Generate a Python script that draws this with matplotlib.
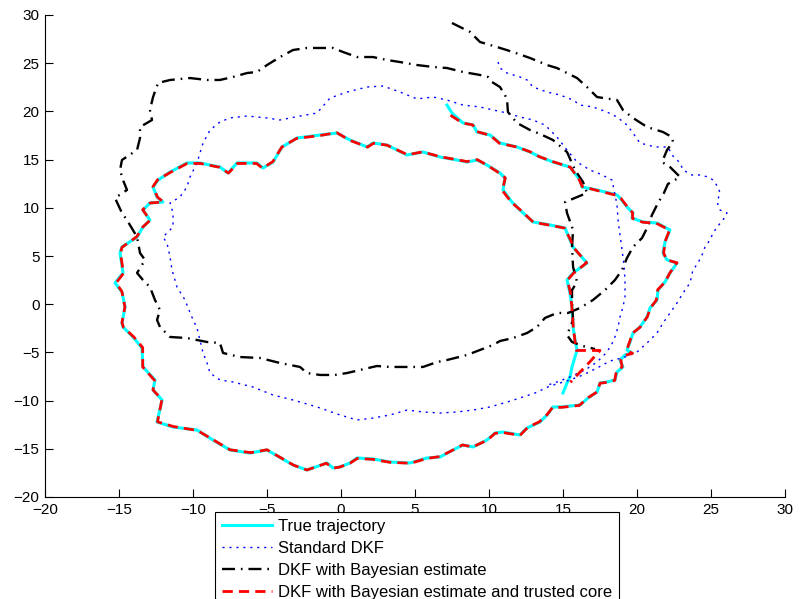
import matplotlib
matplotlib.use("Agg")
import matplotlib.pyplot as plt

# trajectories (x, y)
true_x = [7.16, 7.50, 8.24, 8.92, 9.19, 10.07, 10.74, 11.89, 12.77, 13.45,
          14.32, 15.47, 16.15, 16.28, 17.30, 18.65, 18.85, 19.39, 19.73, 19.66,
          20.41, 21.35, 22.23, 21.89, 21.76, 22.03, 22.70, 22.23, 21.89, 21.42,
          21.35, 20.88, 20.68, 20.20, 19.73, 19.53, 19.32, 19.66, 19.19, 18.85,
          19.05, 18.65, 18.51, 17.97, 17.50, 17.30, 16.69, 16.15, 15.47, 14.93,
          14.32, 13.92, 13.45, 12.57, 12.09, 10.95, 10.41, 9.86, 8.92, 8.24,
          7.57, 6.69, 5.81, 4.66, 3.31, 2.16, 1.08, 0.61, -0.07, -0.54,
          -0.95, -2.30, -3.24, -5.00, -6.15, -7.50, -8.65, -9.73, -11.35, -12.43,
          -12.09, -12.70, -12.57, -13.38, -13.45, -14.05, -14.73, -14.80, -14.59, -14.80,
          -15.27, -14.73, -14.93, -14.80, -13.78, -13.38, -12.91, -13.38, -12.91, -12.03,
          -12.43, -12.70, -12.36, -11.55, -10.41, -9.53, -8.18, -7.64, -7.03, -5.68,
          -5.27, -4.59, -3.99, -2.97, -1.42, -0.27, 0.61, 1.76, 2.16, 3.11,
          4.46, 5.54, 6.69, 7.84, 8.51, 9.19, 9.86, 10.74, 11.08, 10.95,
          11.55, 12.09, 12.97, 14.12, 15.14, 15.47, 15.68, 16.62, 15.68, 15.27,
          15.47, 15.61, 15.68, 15.81, 15.95, 15.61, 15.47, 15.27, 15.00]
true_y = [20.66, 19.83, 18.80, 18.59, 17.86, 17.55, 16.72, 16.31, 15.79, 15.27,
          14.75, 14.23, 12.88, 12.16, 11.85, 11.33, 11.02, 9.98, 9.46, 8.94,
          8.53, 8.42, 7.70, 6.45, 5.31, 4.59, 4.27, 3.24, 2.30, 1.47,
          0.44, -0.39, -1.33, -2.37, -2.99, -3.92, -4.75, -5.06, -5.27, -5.79,
          -6.51, -7.03, -7.86, -8.07, -8.17, -9.11, -9.73, -10.46, -10.56, -10.66,
          -10.66, -11.49, -12.22, -12.84, -13.57, -13.26, -13.36, -14.09, -14.81, -14.61,
          -15.12, -15.85, -15.95, -16.47, -16.37, -16.06, -15.95, -16.47, -16.89, -16.99,
          -16.47, -17.20, -16.68, -15.12, -15.44, -15.12, -14.09, -13.05, -12.74, -12.22,
          -9.94, -8.90, -7.86, -6.51, -4.54, -3.40, -2.37, -1.95, -0.29, 1.27,
          2.20, 3.24, 5.31, 5.93, 6.97, 8.01, 8.73, 9.77, 10.50, 10.60,
          11.12, 12.16, 12.88, 13.71, 14.65, 14.65, 14.23, 13.61, 14.65, 14.65,
          14.13, 14.75, 16.31, 17.24, 17.55, 17.76, 17.03, 16.31, 16.72, 16.51,
          15.48, 15.79, 15.27, 14.96, 14.75, 14.96, 14.44, 13.61, 13.09, 11.85,
          10.60, 9.77, 8.53, 8.22, 7.90, 6.66, 5.93, 4.27, 3.24, 2.51,
          1.16, -0.29, -2.37, -3.71, -4.75, -6.51, -7.55, -8.17, -9.21]

std_x = [10.61, 10.74, 11.22, 12.09, 12.57, 12.97, 13.92, 14.80, 15.68, 16.15,
         17.03, 17.97, 18.65, 19.32, 19.73, 20.20, 21.22, 22.09, 22.36, 22.91,
         23.11, 23.72, 24.26, 24.80, 25.14, 25.47, 25.61, 25.41, 25.61, 26.08,
         25.81, 25.41, 25.14, 24.93, 24.59, 24.46, 24.12, 23.78, 23.58, 23.11,
         22.70, 22.23, 21.76, 21.35, 20.68, 20.00, 19.19, 18.18, 17.30, 16.35,
         15.47, 14.12, 13.11, 12.09, 11.22, 10.07, 8.92, 7.84, 6.69, 5.54,
         4.46, 3.31, 2.16, 1.08, -0.07, -1.62, -3.24, -4.59, -5.95, -7.30,
         -8.18, -8.85, -9.05, -9.32, -9.53, -9.73, -10.14, -10.54, -11.08, -11.42,
         -11.55, -11.76, -12.03, -11.35, -11.35, -11.55, -10.88, -10.41, -10.20, -9.73,
         -9.53, -9.32, -8.85, -8.18, -7.50, -6.35, -5.00, -4.12, -2.77, -1.62,
         -0.74, 0.41, 1.76, 2.84, 3.99, 5.14, 6.22, 7.16, 8.24, 9.39,
         10.27, 11.22, 12.09, 12.97, 13.78, 14.26, 14.59, 15.27, 15.95, 16.82,
         17.50, 18.31, 18.45, 18.65, 18.72, 18.85, 18.99, 19.12, 19.19, 19.19,
         19.05, 18.85, 18.72, 18.51, 18.24, 17.84, 17.30, 16.49, 15.47, 14.59,
         13.78]
std_y = [25.12, 24.50, 23.98, 23.57, 23.26, 22.53, 22.01, 21.70, 21.18, 20.66,
         20.46, 19.94, 19.42, 18.59, 17.76, 16.72, 16.31, 16.31, 15.48, 14.65,
         13.92, 13.40, 13.40, 13.20, 12.88, 12.16, 11.54, 10.60, 9.77, 9.46,
         8.73, 8.01, 7.39, 6.66, 5.93, 5.31, 4.27, 3.55, 2.20, 1.16,
         0.12, -0.91, -1.95, -2.99, -4.02, -4.96, -5.48, -5.89, -6.62, -7.34,
         -7.86, -8.49, -9.21, -9.73, -10.15, -10.66, -10.98, -11.18, -11.29, -11.18,
         -10.98, -11.49, -11.81, -12.01, -11.49, -10.66, -9.94, -9.42, -8.59, -8.07,
         -7.86, -7.14, -6.10, -5.06, -3.71, -2.47, -1.12, 0.44, 1.78, 3.55,
         4.90, 6.35, 6.97, 8.01, 9.46, 10.50, 11.12, 12.16, 13.20, 14.65,
         15.68, 16.72, 18.07, 18.90, 19.32, 19.52, 19.32, 19.11, 19.52, 19.83,
         21.39, 22.01, 22.53, 22.63, 22.01, 21.29, 21.49, 21.18, 20.66, 20.46,
         20.15, 19.83, 19.42, 19.11, 18.59, 17.86, 17.34, 16.00, 14.75, 13.92,
         13.51, 12.88, 11.85, 10.29, 8.73, 7.18, 5.62, 4.07, 2.51, 0.75,
         -0.29, -1.33, -2.37, -3.40, -4.34, -5.17, -6.00, -6.83, -7.55, -8.07,
         -8.49]

bayes_x = [7.50, 8.72, 9.39, 10.54, 11.62, 12.77, 13.92, 14.59, 15.95, 16.62,
           17.30, 18.65, 19.05, 19.73, 20.68, 21.76, 22.36, 22.43, 22.03, 21.69,
           22.23, 22.91, 22.09, 21.82, 21.42, 21.01, 20.68, 20.34, 19.73, 19.32,
           18.99, 18.51, 17.84, 17.03, 16.15, 15.34, 14.59, 13.78, 13.24, 12.57,
           11.62, 10.74, 10.27, 9.39, 8.51, 7.16, 6.49, 5.54, 4.46, 3.31,
           2.43, 1.28, 0.41, -0.41, -1.42, -2.30, -2.77, -4.12, -5.47, -6.82,
           -7.97, -8.18, -9.05, -10.41, -11.55, -12.23, -12.43, -12.23, -12.57, -12.91,
           -13.38, -13.78, -13.24, -13.58, -13.78, -14.46, -14.80, -15.27, -14.46, -14.73,
           -14.93, -14.80, -13.78, -13.58, -13.58, -12.77, -12.91, -12.70, -12.36, -11.55,
           -10.20, -9.05, -8.18, -7.30, -6.35, -5.68, -5.00, -4.12, -3.24, -2.30,
           -1.42, -0.54, 0.14, 1.08, 2.16, 3.11, 3.99, 5.14, 6.22, 7.16,
           8.24, 9.39, 9.93, 10.20, 10.74, 11.08, 11.22, 11.28, 11.89, 12.77,
           13.45, 14.32, 15.27, 15.81, 16.35, 16.62, 15.14, 15.27, 15.68, 15.61,
           15.68, 15.95, 15.61, 15.61, 15.68, 15.27, 15.61, 16.35, 17.16]
bayes_y = [29.17, 28.24, 27.20, 26.68, 26.16, 25.54, 24.81, 24.50, 23.46, 22.53,
           21.49, 21.18, 20.15, 19.32, 18.38, 17.86, 17.34, 16.83, 16.00, 14.75,
           14.23, 13.20, 12.47, 11.54, 10.50, 9.25, 7.90, 6.87, 5.93, 4.79,
           3.55, 2.51, 1.47, 0.44, -0.39, -0.91, -0.91, -1.43, -2.37, -2.99,
           -3.51, -3.82, -4.23, -4.75, -5.27, -5.79, -6.00, -6.51, -6.51, -6.51,
           -6.41, -6.83, -7.14, -7.34, -7.34, -7.14, -6.51, -6.10, -5.58, -5.48,
           -5.06, -4.02, -3.92, -3.51, -3.40, -2.37, -1.64, -0.60, 0.44, 1.78,
           2.51, 3.24, 4.59, 5.31, 6.97, 8.73, 9.46, 11.02, 11.85, 12.88,
           13.92, 14.96, 16.00, 17.24, 18.38, 19.11, 20.15, 21.49, 22.95, 23.26,
           23.46, 23.26, 23.26, 23.57, 23.98, 24.09, 24.81, 25.64, 26.37, 26.58,
           26.58, 26.58, 26.16, 25.64, 25.64, 25.33, 25.12, 24.81, 24.61, 24.50,
           24.09, 23.78, 23.57, 23.05, 22.53, 21.70, 21.18, 19.94, 18.80, 18.07,
           17.66, 17.03, 15.79, 13.92, 12.68, 11.54, 10.60, 9.46, 7.70, 5.93,
           3.86, 2.30, 1.47, 0.12, -1.64, -3.20, -3.92, -4.34, -4.65]

core_x = [7.4, 8.2, 8.9, 9.2, 10.1, 10.7, 11.9, 12.8, 13.4, 14.3,
          15.5, 16.1, 16.3, 17.3, 18.6, 18.9, 19.4, 19.7, 19.7, 20.4,
          21.3, 22.2, 21.9, 21.8, 22.0, 22.7, 22.2, 21.9, 21.4, 21.3,
          20.9, 20.7, 20.2, 19.7, 19.5, 19.3, 19.7, 19.2, 18.9, 19.0,
          18.6, 18.5, 18.0, 17.5, 17.3, 16.7, 16.1, 15.5, 14.9, 14.3,
          13.9, 13.4, 12.6, 12.1, 10.9, 10.4, 9.9, 8.9, 8.2, 7.6,
          6.7, 5.8, 4.7, 3.3, 2.2, 1.1, 0.6, -0.1, -0.5, -1.0,
          -2.3, -3.2, -5.0, -6.1, -7.5, -8.6, -9.7, -11.3, -12.4, -12.1,
          -12.7, -12.6, -13.4, -13.4, -14.0, -14.7, -14.8, -14.6, -14.8, -15.2,
          -14.7, -14.9, -14.8, -13.8, -13.4, -12.9, -13.4, -12.9, -12.0, -12.4,
          -12.7, -12.4, -11.5, -10.4, -9.5, -8.2, -7.6, -7.0, -5.7, -5.3,
          -4.6, -4.0, -3.0, -1.4, -0.3, 0.6, 1.8, 2.2, 3.1, 4.5,
          5.5, 6.7, 7.8, 8.5, 9.2, 9.9, 10.7, 11.1, 10.9, 11.5,
          12.1, 13.0, 14.1, 15.1, 15.5, 15.7, 16.6, 15.7, 15.3, 15.5,
          15.6, 15.7, 15.8, 15.9, 17.5, 16.8, 16.3, 15.5]
core_y = [19.6, 18.8, 18.6, 17.9, 17.5, 16.7, 16.3, 15.8, 15.3,
          14.8, 14.2, 12.9, 12.2, 11.8, 11.3, 11.0, 10.0, 9.5, 8.9,
          8.5, 8.4, 7.7, 6.5, 5.3, 4.6, 4.3, 3.2, 2.3, 1.5,
          0.4, -0.4, -1.3, -2.4, -3.0, -3.9, -4.8, -5.1, -5.3, -5.8,
          -6.5, -7.0, -7.9, -8.1, -8.2, -9.1, -9.7, -10.5, -10.6, -10.7,
          -10.7, -11.5, -12.2, -12.8, -13.6, -13.3, -13.4, -14.1, -14.8, -14.6,
          -15.1, -15.8, -16.0, -16.5, -16.4, -16.1, -16.0, -16.5, -16.9, -17.0,
          -16.5, -17.2, -16.7, -15.1, -15.4, -15.1, -14.1, -13.1, -12.7, -12.2,
          -9.9, -8.9, -7.9, -6.5, -4.5, -3.4, -2.4, -1.9, -0.3, 1.3,
          2.2, 3.2, 5.3, 5.9, 7.0, 8.0, 8.7, 9.8, 10.5, 10.6,
          11.1, 12.2, 12.9, 13.7, 14.6, 14.6, 14.2, 13.6, 14.6, 14.6,
          14.1, 14.8, 16.3, 17.2, 17.5, 17.8, 17.0, 16.3, 16.7, 16.5,
          15.5, 15.8, 15.3, 15.0, 14.8, 15.0, 14.4, 13.6, 13.1, 11.8,
          10.6, 9.8, 8.5, 8.2, 7.9, 6.7, 5.9, 4.3, 3.2, 2.5,
          1.2, -0.3, -2.4, -3.7, -4.8, -4.8, -6.0, -6.8, -8.1]

labels = ["True trajectory", "Standard DKF", "DKF with Bayesian estimate",
          "DKF with Bayesian estimate and trusted core"]
ticks = [-20, -15, -10, -5, 0, 5, 10, 15, 20, 25, 30]

plt.rcParams["font.family"] = ["Liberation Sans", "DejaVu Sans"]

fig = plt.figure(figsize=(8.01, 5.99), dpi=100)
ax = fig.add_axes([45 / 801, 102 / 599, 740 / 801, 482 / 599])

ax.plot(true_x, true_y, color="cyan", lw=2.2, label=labels[0])
ax.plot(std_x, std_y, color="blue", lw=1.0, dashes=(1.5, 3.5), label=labels[1])
ax.plot(bayes_x, bayes_y, color="black", lw=1.7, dashes=(5.5, 2.5, 0.7, 2.5), label=labels[2])
ax.plot(core_x, core_y, color="red", lw=2.0, dashes=(3.7, 2.2), label=labels[3])

ax.set_xlim(-20, 30)
ax.set_ylim(-20, 30)
ax.set_xticks(ticks)
ax.set_yticks(ticks)
ax.tick_params(direction="in", length=6, width=0.8, labelsize=11, pad=4)
ax.spines["top"].set_visible(False)
ax.spines["right"].set_visible(False)

# legend sits under the axes and runs past the bottom edge, as in the original
leg = fig.legend(loc="upper left", bbox_to_anchor=(215 / 801, 1 - 512 / 599),
                 borderaxespad=0, fontsize=12, frameon=True, fancybox=False,
                 framealpha=1, edgecolor="black", handlelength=3.0,
                 handletextpad=0.4, labelspacing=0.42, borderpad=0.4)
leg.get_frame().set_linewidth(0.8)

fig.savefig("out.png", dpi=100)
